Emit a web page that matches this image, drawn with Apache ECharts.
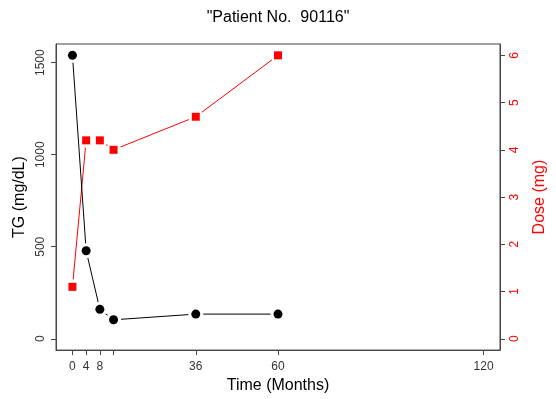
<!DOCTYPE html>
<html>
<head>
<meta charset="utf-8">
<script src="https://cdn.jsdelivr.net/npm/echarts@6/dist/echarts.min.js"></script>
<style>
  html, body { margin: 0; padding: 0; background: #fff; }
  #chart { width: 556px; height: 399px; }
</style>
</head>
<body>
<div id="chart"></div>
<script>
// months since start
const months = [0, 4, 8, 12, 36, 60]
const tgValues = [1540, 478, 160, 103, 134, 134]
const doseValues = [1.1, 4.2, 4.2, 4.0, 4.7, 6.0]

const xTickLabels = [0, 4, 8, 36, 60, 120]
const xTicks = [0, 4, 8, 12, 36, 60, 120]
const tgTicks = [0, 500, 1000, 1500]
const doseTicks = [0, 1, 2, 3, 4, 5, 6]

const pairs = (ys) => months.map((m, i) => [m, ys[i]])

const FONT = 'Liberation Sans, Arial, sans-serif'
const AXIS = '#444'

const chart = echarts.init(document.getElementById('chart'))

const sideAxis = (color, ticks) => ({
  axisLine: { show: true, onZero: false, lineStyle: { color: AXIS, width: 1 } },
  axisTick: { show: true, inside: false, length: 5, customValues: ticks, lineStyle: { color: AXIS } },
  axisLabel: { customValues: ticks, rotate: 90, color: color, fontSize: 12, fontFamily: FONT,
    margin: 9, formatter: v => String(v) },
  splitLine: { show: false }
})

const option = {
  animation: false,
  title: {
    text: '"Patient No.  90116"',
    left: 'center',
    top: 5,
    textStyle: { fontSize: 16, fontWeight: 'normal', color: '#000', fontFamily: FONT }
  },
  grid: { left: 56, right: 56, top: 44, bottom: 47, show: true, borderColor: AXIS, borderWidth: 1 },
  xAxis: {
    type: 'value',
    min: -4.8,
    max: 124.8,
    name: 'Time (Months)',
    nameLocation: 'middle',
    nameGap: 25,
    nameTextStyle: { fontSize: 16, color: '#000', fontFamily: FONT },
    axisLine: { show: true, onZero: false, lineStyle: { color: AXIS } },
    axisTick: { show: true, inside: false, length: 5, customValues: xTicks, lineStyle: { color: AXIS } },
    axisLabel: { customValues: xTickLabels, color: '#333', fontSize: 12, fontFamily: FONT, margin: 11 },
    splitLine: { show: false }
  },
  yAxis: [
    Object.assign(sideAxis('#333', tgTicks), {
      type: 'value', position: 'left', min: -61.6, max: 1601.6,
      name: 'TG (mg/dL)', nameLocation: 'middle', nameRotate: 90, nameGap: 20,
      nameTextStyle: { fontSize: 16, color: '#000', fontFamily: FONT }
    }),
    Object.assign(sideAxis('#f00', doseTicks), {
      type: 'value', position: 'right', min: -0.24, max: 6.24,
      name: 'Dose (mg)', nameLocation: 'middle', nameRotate: 90, nameGap: 32,
      nameTextStyle: { fontSize: 16, color: '#f00', fontFamily: FONT }
    })
  ],
  series: [
    // dose line with white halos to mimic type="b" gaps
    { type: 'line', yAxisIndex: 1, data: pairs(doseValues), symbol: 'circle', symbolSize: 15,
      itemStyle: { color: '#fff', borderWidth: 0 }, lineStyle: { color: '#f00', width: 1 }, z: 1 },
    { type: 'line', yAxisIndex: 0, data: pairs(tgValues), symbol: 'circle', symbolSize: 15,
      itemStyle: { color: '#fff', borderWidth: 0 }, lineStyle: { color: '#000', width: 1 }, z: 3 },
    { type: 'scatter', yAxisIndex: 1, data: pairs(doseValues), symbol: 'rect', symbolSize: 8,
      itemStyle: { color: '#f00', opacity: 1 }, z: 5 },
    { type: 'scatter', yAxisIndex: 0, data: pairs(tgValues), symbol: 'circle', symbolSize: 9,
      itemStyle: { color: '#000', opacity: 1 }, z: 5 }
  ]
}

chart.setOption(option)
</script>
</body>
</html>
